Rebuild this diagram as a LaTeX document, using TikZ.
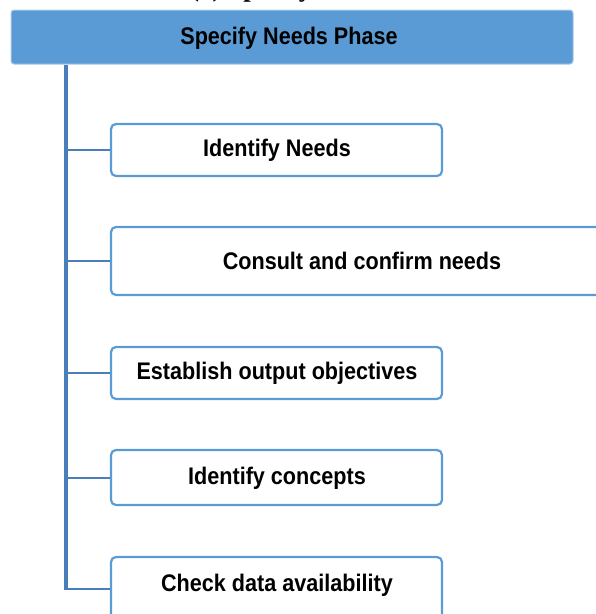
\documentclass[tikz,border=0pt]{standalone}
\usepackage{fontspec}
\setmainfont{Liberation Sans}
\newfontfamily\capfont{Liberation Serif Bold}
\newfontfamily\boxfont[FakeStretch=0.9]{Liberation Sans Bold}
\definecolor{hdrfill}{HTML}{5B9BD5}
\definecolor{hdrline}{HTML}{A9C8E8}
\definecolor{boxline}{HTML}{5B9BD5}
\definecolor{trunkcol}{HTML}{4A7EBB}
\tikzset{
  hdr/.style={draw=hdrline, line width=1pt, fill=hdrfill, rounded corners=3pt,
    minimum width=562pt, minimum height=54pt, inner sep=0pt},
  stepbox/.style={draw=boxline, line width=2.2pt, fill=white, rounded corners=5pt,
    inner sep=0pt, minimum width=331pt},
  lbl/.style={font=\boxfont\fontsize{24}{28}\selectfont, inner sep=0pt},
  trunk/.style={draw=trunkcol, line width=4pt},
  branch/.style={draw=trunkcol, line width=2pt},
}
\begin{document}
\begin{tikzpicture}[x=1pt,y=-1pt]
\useasboundingbox (0,0) rectangle (596,614);
\clip (0,0) rectangle (596,614);
\node[anchor=base west, inner sep=0pt, font=\capfont\fontsize{27}{30}\selectfont] (cap) at (190,-3.5) {(a) Specify Phase};
\node[hdr] (hdr) at (292,37) {};
\node[lbl] (l0) at (289,38) {Specify Needs Phase};
\node[stepbox, minimum height=52pt] (b1) at (276.5,150) {};
\node[lbl] (l1) at (277,150) {Identify Needs};
\node[stepbox, minimum width=532pt, minimum height=68pt] (b2) at (377,261) {};
\node[lbl] (l2) at (362,261) {Consult and confirm needs};
\node[stepbox, minimum height=52pt] (b3) at (276.5,373) {};
\node[lbl] (l3) at (277,373) {Establish output objectives};
\node[stepbox, minimum height=55pt] (b4) at (276.5,477.5) {};
\node[lbl] (l4) at (277,478) {Identify concepts};
\node[stepbox, minimum height=83pt] (b5) at (276.5,598.5) {};
\node[lbl] (l5) at (277,585) {Check data availability};
\coordinate (t0) at (66,65);
\coordinate (j5) at (66,589);
\draw[trunk] (t0) -- ([yshift=1pt]j5);
\draw[branch] (b1.west -| t0) -- (b1.west);
\draw[branch] (b2.west -| t0) -- (b2.west);
\draw[branch] (b3.west -| t0) -- (b3.west);
\draw[branch] (b4.west -| t0) -- (b4.west);
\draw[branch] ([xshift=-2pt]j5) -- (j5 -| b5.west);
\end{tikzpicture}
\end{document}
